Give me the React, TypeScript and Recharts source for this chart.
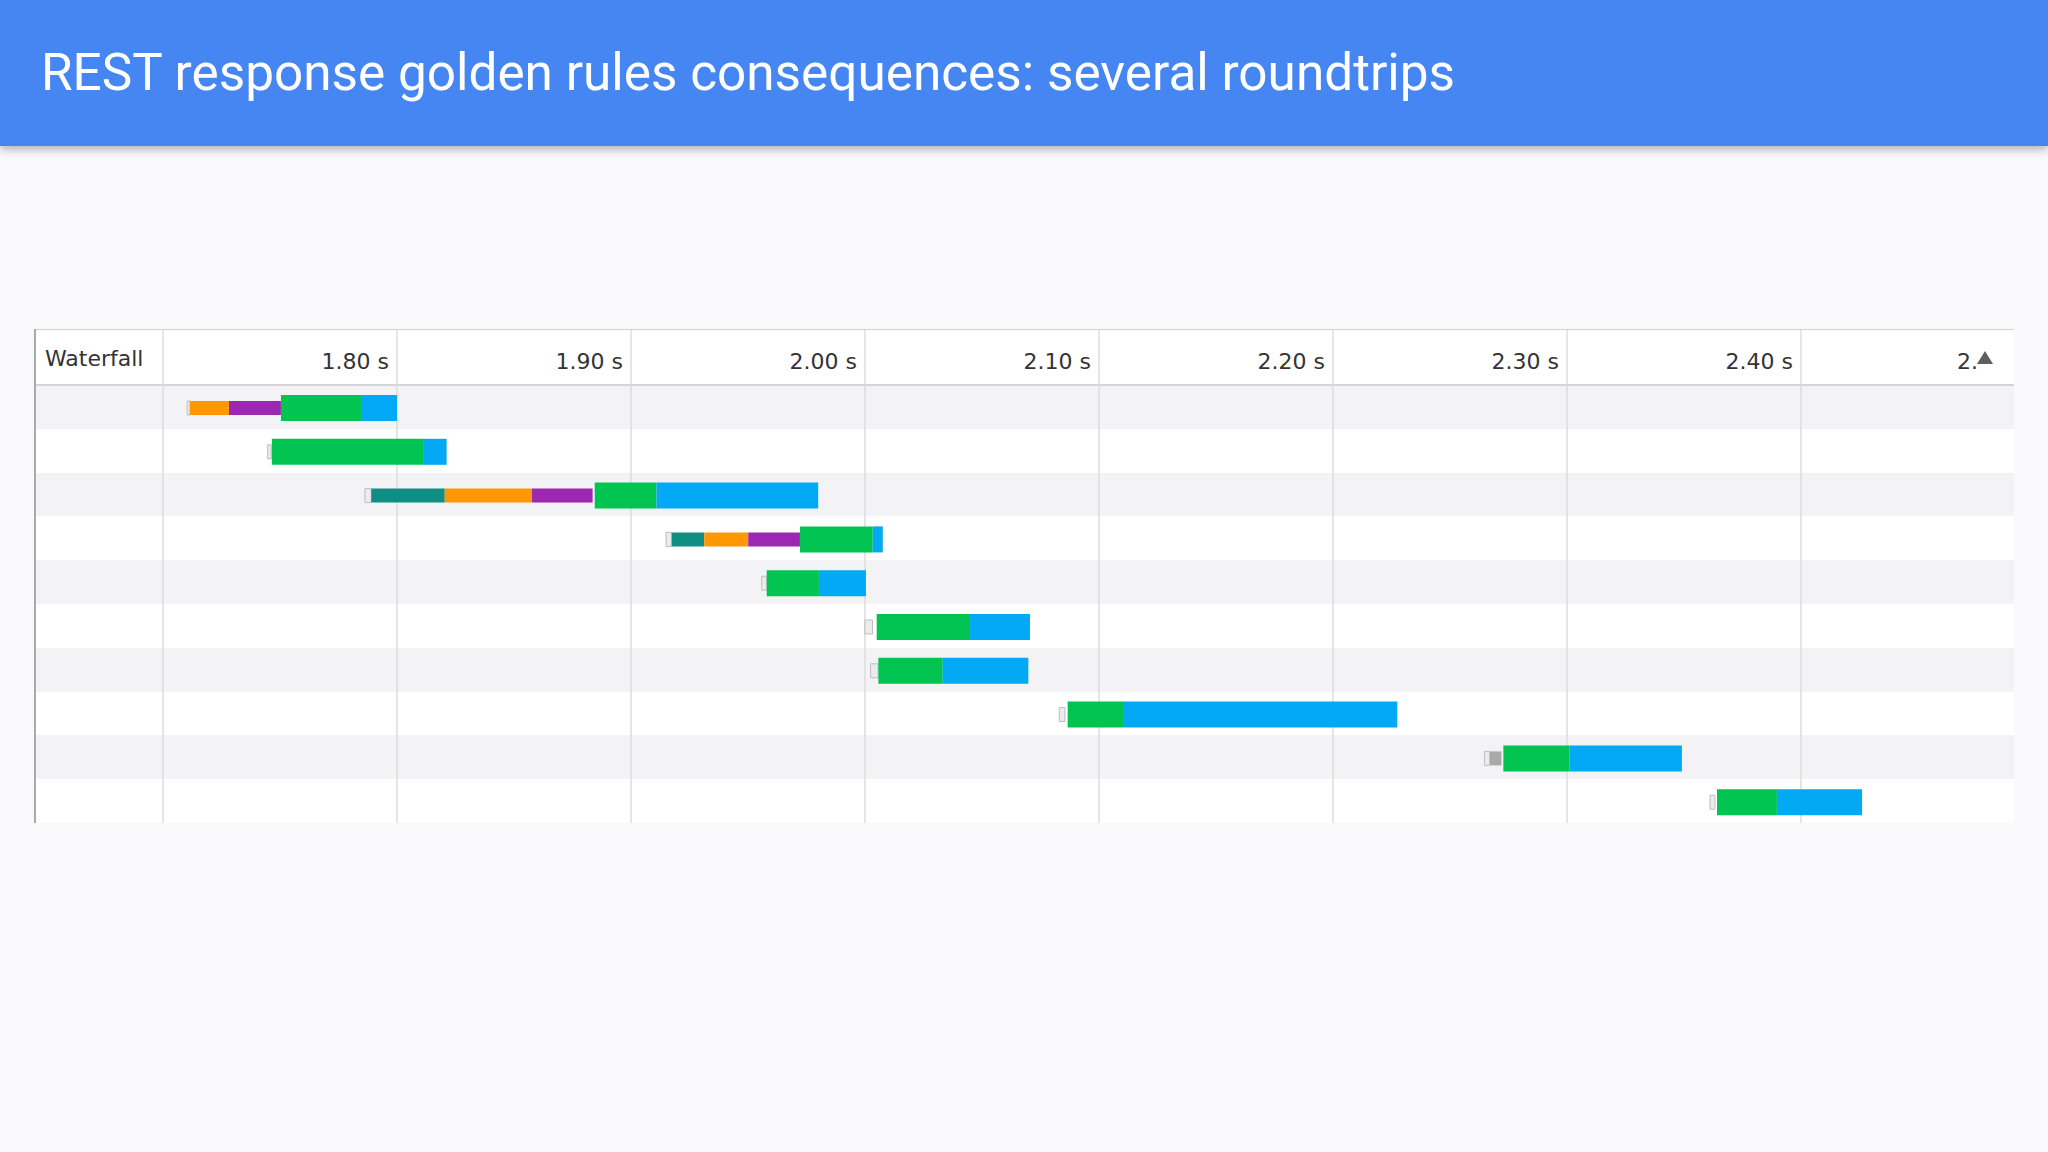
import React from 'react';
import { BarChart, Bar, XAxis, YAxis, CartesianGrid } from 'recharts';

type Span = [number, number] | null;

// one entry per request row (top to bottom), times in seconds
const rows = ['r1', 'r2', 'r3', 'r4', 'r5', 'r6', 'r7', 'r8', 'r9', 'r10'];

const queueing: Span[] = [
  [1.7103, 1.7115], [1.7447, 1.7462], [1.7863, 1.789], [1.915, 1.9174], [1.9559, 1.958],
  [1.9999, 2.0032], [2.0024, 2.0056], [2.083, 2.0854], [2.2648, 2.267], [2.3611, 2.3632],
];
const stalled: Span[] = [null, null, null, null, null, null, null, null, [2.267, 2.272], null];
const dns: Span[] = [null, null, [1.789, 1.8204], [1.9174, 1.9313], null, null, null, null, null, null];
const connect: Span[] = [[1.7115, 1.7282], null, [1.8204, 1.8577], [1.9313, 1.9501], null, null, null, null, null, null];
const ssl: Span[] = [[1.7282, 1.7504], null, [1.8577, 1.8836], [1.9501, 1.9722], null, null, null, null, null, null];
const ttfb: Span[] = [
  [1.7504, 1.785], [1.7465, 1.8115], [1.8845, 1.9109], [1.9722, 2.0033], [1.958, 1.9803],
  [2.005, 2.0449], [2.0057, 2.0332], [2.0866, 2.1107], [2.2728, 2.301], [2.3641, 2.3897],
];
const download: Span[] = [
  [1.785, 1.8], [1.8115, 1.8212], [1.9109, 1.98], [2.0033, 2.0076], [1.9803, 2.0004],
  [2.0449, 2.0705], [2.0332, 2.0698], [2.1107, 2.2275], [2.301, 2.3491], [2.3897, 2.4261],
];

const timeTicks = [1.7, 1.8, 1.9, 2.0, 2.1, 2.2, 2.3, 2.4, 2.5];

const data = rows.map((row, i) => ({
  row,
  queueing: queueing[i],
  stalled: stalled[i],
  dns: dns[i],
  connect: connect[i],
  ssl: ssl[i],
  ttfb: ttfb[i],
  download: download[i],
}));

const FONT = "'DejaVu Sans', sans-serif";

const TimeTick = (props: any) => {
  const { x, y, payload } = props;
  const v: number = payload.value;
  if (v < 1.75) return <g />;
  if (v > 2.45) {
    // last column label is cut off by the sort arrow
    return (
      <g>
        <text x={x - 57} y={y + 39} textAnchor="end" fill="#333" fontSize={22} fontFamily={FONT}>
          2.
        </text>
        <path d={`M${x - 58},${y + 34} L${x - 42},${y + 34} L${x - 50},${y + 21} Z`} fill="#5f5f5f" />
      </g>
    );
  }
  return (
    <text x={x - 8} y={y + 39} textAnchor="end" fill="#333" fontSize={22} fontFamily={FONT}>
      {`${v.toFixed(2)} s`}
    </text>
  );
};

const HEADER_H = 56;
const ROW_H = 43.8;

export default function App() {
  return (
    <div
      style={{
        position: 'absolute',
        left: 0,
        top: 0,
        width: 2048,
        height: 1152,
        background: '#f9f8fa',
        overflow: 'hidden',
      }}
    >
      <div
        style={{
          position: 'absolute',
          left: 0,
          top: 0,
          width: 2048,
          height: 146,
          background: '#4586f2',
          boxShadow: '0 3px 9px rgba(0,0,0,0.3)',
        }}
      >
        <div
          style={{
            position: 'absolute',
            left: 41,
            top: 47,
            fontFamily: 'Roboto, sans-serif',
            fontSize: 51.3,
            lineHeight: 1,
            color: '#ffffff',
            whiteSpace: 'nowrap',
          }}
        >
          REST response golden rules consequences: several roundtrips
        </div>
      </div>

      <div
        style={{
          position: 'absolute',
          left: 34,
          top: 329,
          width: 1980,
          height: HEADER_H + ROW_H * rows.length,
          overflow: 'hidden',
        }}
      >
        {/* header row + striped body */}
        <div style={{ position: 'absolute', left: 0, top: 0, width: '100%', height: HEADER_H, background: '#ffffff' }} />
        <div
          style={{
            position: 'absolute',
            left: 0,
            top: HEADER_H,
            width: '100%',
            height: ROW_H * rows.length,
            background: `repeating-linear-gradient(to bottom, #f3f2f5 0px, #f3f2f5 ${ROW_H}px, #ffffff ${ROW_H}px, #ffffff ${ROW_H * 2}px)`,
          }}
        />
        <div style={{ position: 'absolute', left: 0, top: 0, width: '100%', height: 1, background: '#d2d2d2' }} />
        <div style={{ position: 'absolute', left: 0, top: HEADER_H - 1, width: '100%', height: 2, background: '#d4d4d4' }} />
        <div style={{ position: 'absolute', left: 0, top: 0, width: 2, height: '100%', background: '#a9a9a9' }} />
        <div
          style={{
            position: 'absolute',
            left: 11,
            top: 19,
            fontFamily: FONT,
            fontSize: 22,
            lineHeight: 1,
            color: '#333',
          }}
        >
          Waterfall
        </div>

        <div style={{ position: 'absolute', left: 0, top: 1 }}>
          <BarChart
            width={2001}
            height={HEADER_H + ROW_H * rows.length}
            data={data}
            layout="vertical"
            margin={{ top: 0, right: 0, bottom: 0, left: 129 }}
            barCategoryGap={0}
          >
            <CartesianGrid horizontal={false} stroke="#dcdcdc" strokeWidth={1.5} />
            <XAxis
              type="number"
              orientation="top"
              domain={[1.7, 2.5]}
              ticks={timeTicks}
              interval={0}
              allowDataOverflow
              height={HEADER_H}
              tickSize={HEADER_H}
              tickMargin={0}
              axisLine={false}
              tickLine={{ stroke: '#dcdcdc', strokeWidth: 1.5 }}
              tick={<TimeTick />}
            />
            <YAxis yAxisId="queueing" type="category" dataKey="row" hide />
            <YAxis yAxisId="stalled" type="category" dataKey="row" hide />
            <YAxis yAxisId="dns" type="category" dataKey="row" hide />
            <YAxis yAxisId="connect" type="category" dataKey="row" hide />
            <YAxis yAxisId="ssl" type="category" dataKey="row" hide />
            <YAxis yAxisId="ttfb" type="category" dataKey="row" hide />
            <YAxis yAxisId="download" type="category" dataKey="row" hide />
            <Bar yAxisId="queueing" dataKey="queueing" barSize={14} fill="#ececec" stroke="#bdbdbd" strokeWidth={1} isAnimationActive={false} />
            <Bar yAxisId="stalled" dataKey="stalled" barSize={14} fill="#a9a9a9" isAnimationActive={false} />
            <Bar yAxisId="dns" dataKey="dns" barSize={14} fill="#0f8f84" isAnimationActive={false} />
            <Bar yAxisId="connect" dataKey="connect" barSize={14} fill="#ff9800" isAnimationActive={false} />
            <Bar yAxisId="ssl" dataKey="ssl" barSize={14} fill="#9c27b0" isAnimationActive={false} />
            <Bar yAxisId="ttfb" dataKey="ttfb" barSize={26} fill="#02c450" isAnimationActive={false} />
            <Bar yAxisId="download" dataKey="download" barSize={26} fill="#03a9f4" isAnimationActive={false} />
          </BarChart>
        </div>
      </div>
    </div>
  );
}
